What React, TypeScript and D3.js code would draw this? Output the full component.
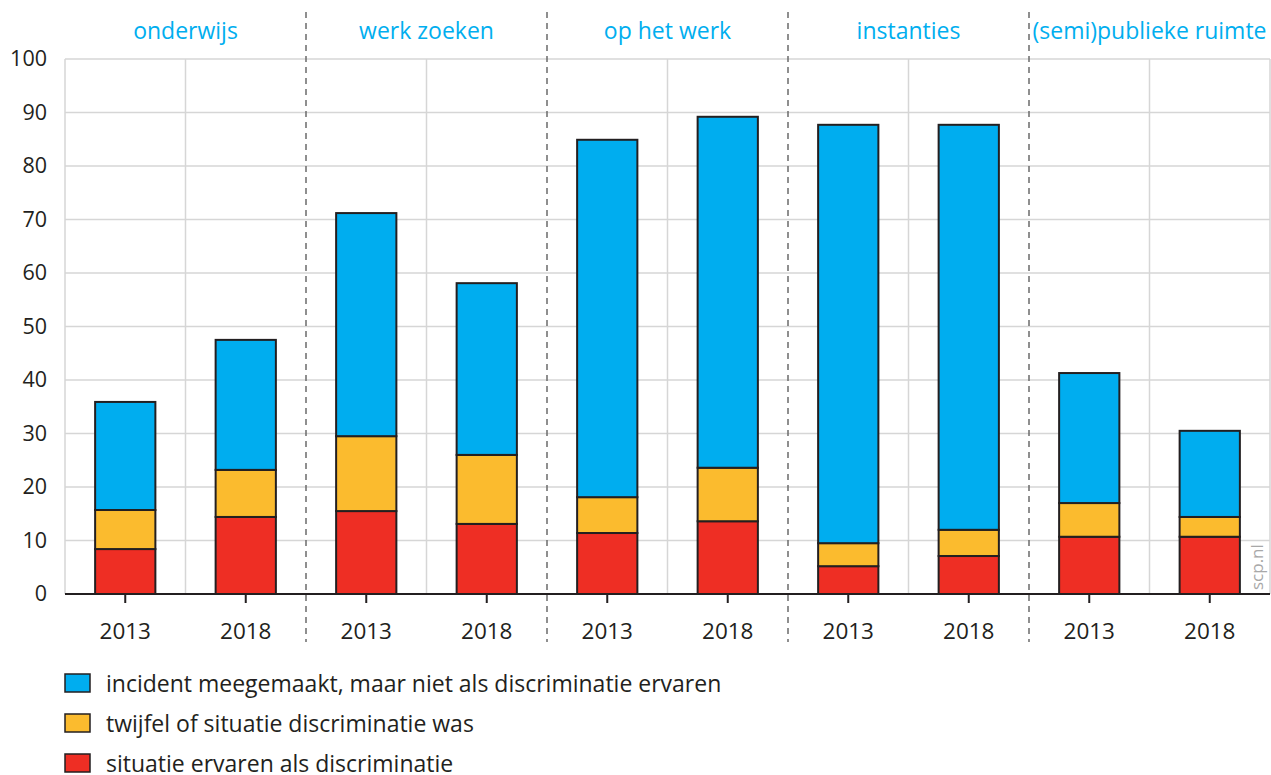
import React, { useRef, useEffect } from "react";
import * as d3 from "d3";

const categories = [
  "onderwijs",
  "werk zoeken",
  "op het werk",
  "instanties",
  "(semi)publieke ruimte",
];
const years = ["2013", "2018"];

// per category: 2013, 2018
const discriminatie = [8.4, 14.4, 15.5, 13.1, 11.4, 13.6, 5.2, 7.1, 10.7, 10.7];
const twijfel = [7.3, 8.8, 14.0, 12.9, 6.7, 10.0, 4.3, 4.9, 6.3, 3.7];
const nietErvaren = [20.2, 24.3, 41.7, 32.1, 66.8, 65.6, 78.2, 75.7, 24.3, 16.1];

const seriesKeys = ["discriminatie", "twijfel", "nietErvaren"];
const seriesLabels = [
  "incident meegemaakt, maar niet als discriminatie ervaren",
  "twijfel of situatie discriminatie was",
  "situatie ervaren als discriminatie",
];
const yTicks = [0, 10, 20, 30, 40, 50, 60, 70, 80, 90, 100];

const colors: Record<string, string> = {
  discriminatie: "#ee2e24",
  twijfel: "#fbbb2e",
  nietErvaren: "#00adef",
};

const App = () => {
  const container = useRef<SVGSVGElement>(null);

  const width = 1271;
  const height = 775;
  const left = 65;
  const right = 1270;
  const bottom = 594;
  const top = 59;
  const font = "'Open Sans', sans-serif";

  useEffect(() => {
    const svg = d3.select(container.current);
    svg.selectAll("*").remove();

    // build rows
    const data = categories.flatMap((cat, ci) =>
      years.map((yr, yi) => {
        const i = ci * 2 + yi;
        return {
          cat,
          year: yr,
          discriminatie: discriminatie[i],
          twijfel: twijfel[i],
          nietErvaren: nietErvaren[i],
        };
      })
    );

    const x0 = d3.scaleBand().domain(categories).range([left, right]);
    const x1 = d3
      .scaleBand()
      .domain(years)
      .range([0, x0.bandwidth()])
      .paddingInner(0.5)
      .paddingOuter(0.25);
    const y = d3.scaleLinear().domain([0, 100]).range([bottom, top]);

    // horizontal grid
    svg
      .append("g")
      .selectAll("line")
      .data(yTicks.slice(1))
      .enter()
      .append("line")
      .attr("x1", left)
      .attr("x2", right)
      .attr("y1", (d) => y(d))
      .attr("y2", (d) => y(d))
      .attr("stroke", "#d6d6d6")
      .attr("stroke-width", 1.5);

    // vertical grid: left edge, right edge and middle of every group
    const vLines = [left, right, ...categories.map((c) => x0(c)! + x0.bandwidth() / 2)];
    svg
      .append("g")
      .selectAll("line")
      .data(vLines)
      .enter()
      .append("line")
      .attr("x1", (d) => d)
      .attr("x2", (d) => d)
      .attr("y1", top)
      .attr("y2", bottom)
      .attr("stroke", "#d6d6d6")
      .attr("stroke-width", 1.5);

    // dashed separators between groups
    svg
      .append("g")
      .selectAll("line")
      .data(categories.slice(1))
      .enter()
      .append("line")
      .attr("x1", (d) => x0(d)!)
      .attr("x2", (d) => x0(d)!)
      .attr("y1", 12)
      .attr("y2", 642)
      .attr("stroke", "#6b6b6b")
      .attr("stroke-width", 1.5)
      .attr("stroke-dasharray", "6,5");

    // stacked bars
    const stacked = d3.stack<any>().keys(seriesKeys)(data);
    svg
      .append("g")
      .selectAll("g")
      .data(stacked)
      .enter()
      .append("g")
      .attr("fill", (d) => colors[d.key])
      .selectAll("rect")
      .data((d) => d)
      .enter()
      .append("rect")
      .attr("x", (d) => x0(d.data.cat)! + x1(d.data.year)!)
      .attr("y", (d) => y(d[1]))
      .attr("width", x1.bandwidth())
      .attr("height", (d) => y(d[0]) - y(d[1]))
      .attr("stroke", "#231f20")
      .attr("stroke-width", 2);

    // x axis line
    svg
      .append("line")
      .attr("x1", left)
      .attr("x2", right)
      .attr("y1", bottom)
      .attr("y2", bottom)
      .attr("stroke", "#231f20")
      .attr("stroke-width", 2);

    // x ticks + labels
    const xg = svg
      .append("g")
      .selectAll("g")
      .data(data)
      .enter()
      .append("g")
      .attr(
        "transform",
        (d) => `translate(${x0(d.cat)! + x1(d.year)! + x1.bandwidth() / 2},${bottom})`
      );
    xg.append("line").attr("y1", 0).attr("y2", 9).attr("stroke", "#231f20").attr("stroke-width", 2);
    xg.append("text")
      .attr("y", 45)
      .attr("text-anchor", "middle")
      .style("font-family", font)
      .style("font-size", "22.5px")
      .style("fill", "#231f20")
      .text((d) => d.year);

    // y labels
    svg
      .append("g")
      .selectAll("text")
      .data(yTicks)
      .enter()
      .append("text")
      .attr("x", 47)
      .attr("y", (d) => y(d) + 7)
      .attr("text-anchor", "end")
      .style("font-family", font)
      .style("font-size", "21.5px")
      .style("fill", "#231f20")
      .text((d) => d);

    // category titles
    svg
      .append("g")
      .selectAll("text")
      .data(categories)
      .enter()
      .append("text")
      .attr("x", (d) => x0(d)! + x0.bandwidth() / 2)
      .attr("y", 39)
      .attr("text-anchor", "middle")
      .style("font-family", font)
      .style("font-size", "23px")
      .style("fill", "#00aeef")
      .text((d) => d);

    // watermark
    svg
      .append("text")
      .attr("transform", `translate(1263,${bottom - 4}) rotate(-90)`)
      .style("font-family", font)
      .style("font-size", "17px")
      .style("fill", "#a8a8a8")
      .text("scp.nl");

    // legend
    const legendKeys = ["nietErvaren", "twijfel", "discriminatie"];
    const legend = svg
      .append("g")
      .selectAll("g")
      .data(legendKeys)
      .enter()
      .append("g")
      .attr("transform", (d, i) => `translate(65, ${674 + i * 40})`);
    legend
      .append("rect")
      .attr("width", 25)
      .attr("height", 18)
      .attr("fill", (d) => colors[d])
      .attr("stroke", "#231f20")
      .attr("stroke-width", 1.5);
    legend
      .append("text")
      .attr("x", 41)
      .attr("y", 18)
      .style("font-family", font)
      .style("font-size", "23px")
      .style("fill", "#231f20")
      .text((d, i) => seriesLabels[i]);
  }, []);

  return (
    <div style={{ position: "absolute", left: 0, top: 0, width: width, height: height }}>
      <svg ref={container} width={width} height={height} style={{ display: "block" }} />
    </div>
  );
};

export default App;
